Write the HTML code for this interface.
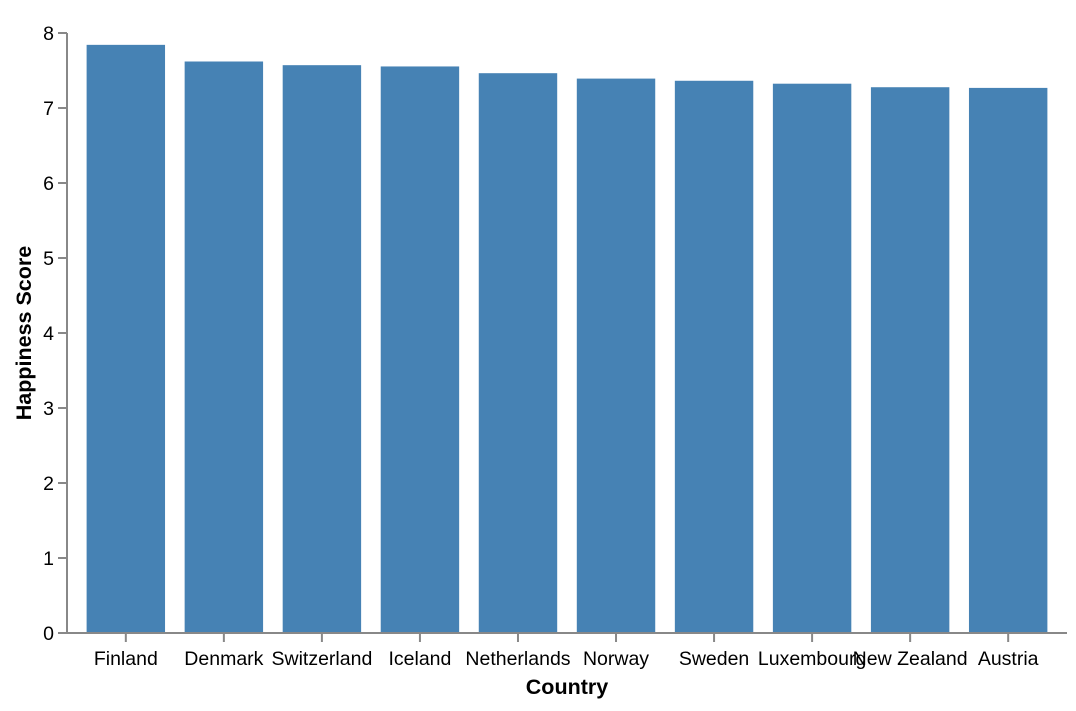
<!DOCTYPE html>
<html><head><meta charset="utf-8"><style>
body{margin:0;background:#fff;}
svg{font-family:"Liberation Sans",Arial,sans-serif;}
</style></head><body>
<svg id="chart" width="1076" height="706"></svg>
<script>
const categories=["Finland","Denmark","Switzerland","Iceland","Netherlands","Norway","Sweden","Luxembourg","New Zealand","Austria"];
const scores=[7.842,7.620,7.571,7.554,7.464,7.392,7.363,7.324,7.277,7.268];
const yTicks=[0,1,2,3,4,5,6,7,8];
const NS="http://www.w3.org/2000/svg";
const svg=document.getElementById('chart');
const L=67,R=1067,T=33,B=633;
const n=categories.length,pi=0.2,po=0.2;
const step=(R-L)/(n-pi+2*po),bw=step*(1-pi);
const x=i=>L+step*po+i*step;
const y=v=>B-(v/8)*(B-T);
function mk(t,a,p){const e=document.createElementNS(NS,t);for(const k in a)e.setAttribute(k,a[k]);(p||svg).appendChild(e);return e;}
yTicks.forEach(v=>{
 const g=mk('g',{});
 
 
 mk('line',{x1:L-9,x2:L,y1:y(v),y2:y(v),stroke:'#888','stroke-width':2},g);
 const t=mk('text',{x:L-13,y:y(v)+7,'text-anchor':'end','font-size':19.5,fill:'#000'},g);t.textContent=v;
});
categories.forEach((c,i)=>{
 const r=mk('rect',{x:x(i),y:y(scores[i]),width:bw,height:B-y(scores[i]),fill:'#4682b4'});
 
 
 const cx=x(i)+bw/2;
 const tk=mk('line',{x1:cx,x2:cx,y1:B,y2:B+9,stroke:'#888','stroke-width':2});
 
 
 const t=mk('text',{x:cx,y:B+32,'text-anchor':'middle','font-size':19.5,fill:'#000'});
 t.textContent=c;
 
 
});
const ya=mk('line',{x1:L,x2:L,y1:T,y2:B,stroke:'#888','stroke-width':2});


const xa=mk('line',{x1:L,x2:R,y1:B,y2:B,stroke:'#888','stroke-width':2});


const xt=mk('text',{x:(L+R)/2,y:694,'text-anchor':'middle','font-size':21.5,'font-weight':'bold'});
xt.textContent='Country';


const yt=mk('text',{x:0,y:0,transform:'translate(31,'+(T+B)/2+') rotate(-90)','text-anchor':'middle','font-size':21.5,'font-weight':'bold'});
yt.textContent='Happiness Score';


</script>
</body></html>
